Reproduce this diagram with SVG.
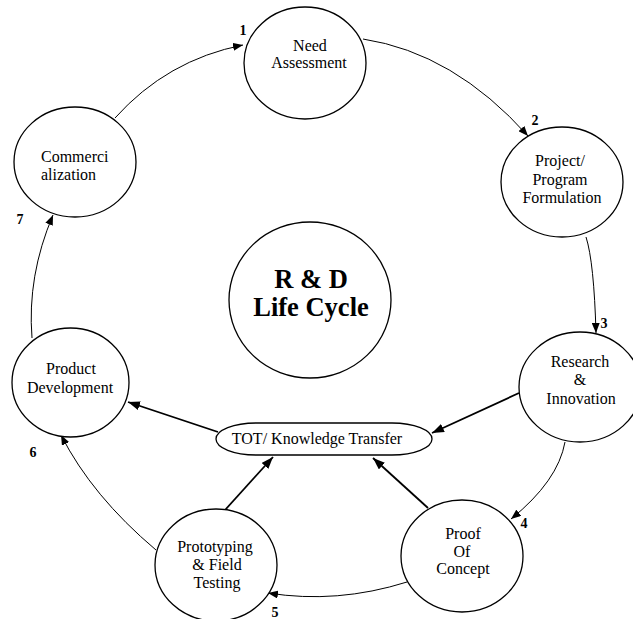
<svg xmlns="http://www.w3.org/2000/svg" width="633" height="619" viewBox="0 0 633 619">
<defs>
<style>
.node{fill:#fff;stroke:#000;stroke-width:1.3}
.t{font-family:"Liberation Serif","Times New Roman",serif;font-size:16px;fill:#000;text-anchor:middle}
.ts{text-anchor:start}
.big{font-family:"Liberation Serif","Times New Roman",serif;font-size:26.5px;font-weight:bold;fill:#000;text-anchor:middle}
.num{font-family:"Liberation Serif","Times New Roman",serif;font-size:14px;font-weight:bold;fill:#000;text-anchor:middle}
.arc{fill:none;stroke:#000;stroke-width:1;marker-end:url(#ah)}
.thick{fill:none;stroke:#000;stroke-width:1.8;marker-end:url(#ah2)}
</style>
<marker id="ah" markerUnits="userSpaceOnUse" markerWidth="11" markerHeight="8" refX="10" refY="4" orient="auto">
<path d="M0,0 L10,4 L0,8 z" fill="#000"/>
</marker>
<marker id="ah2" markerUnits="userSpaceOnUse" markerWidth="13" markerHeight="10" refX="12" refY="4.5" orient="auto">
<path d="M0,0 L12,4.5 L0,9 z" fill="#000"/>
</marker>
</defs>
<rect width="633" height="619" fill="#fff"/>
<g id="connectors">
<path class="arc" d="M115,118 Q167,60 243,45"/>
<path class="arc" d="M363,39 Q454,53 528,136"/>
<path class="arc" d="M586,237 Q594,262 596,333"/>
<path class="arc" d="M565,442 Q558,481 511,519"/>
<path class="arc" d="M407,582 Q337,604 268,593"/>
<path class="arc" d="M156,550 Q92,496 61,435"/>
<path class="arc" d="M32,338 Q27,276 53,215"/>
<path class="thick" d="M519,393 L432,433"/>
<path class="thick" d="M218,432 L128,402"/>
<path class="thick" d="M225,510 L273,457"/>
<path class="thick" d="M428,508 L373,458"/>
</g>
<g id="center">
<ellipse class="node" cx="310" cy="300" rx="81" ry="78"/>
<text class="big" x="311" y="288">R &amp; D</text>
<text class="big" x="311" y="316">Life Cycle</text>
</g>
<g id="need">
<ellipse class="node" cx="305" cy="63" rx="61" ry="56"/>
<text class="t" x="310" y="51">Need</text>
<text class="t" x="309" y="68">Assessment</text>
</g>
<g id="project">
<ellipse class="node" cx="562" cy="182" rx="61" ry="55"/>
<text class="t" x="560" y="166">Project/</text>
<text class="t" x="560" y="185">Program</text>
<text class="t" x="562" y="203">Formulation</text>
</g>
<g id="research">
<ellipse class="node" cx="580" cy="387" rx="61" ry="55"/>
<text class="t" x="580" y="367">Research</text>
<text class="t" x="580" y="385">&amp;</text>
<text class="t" x="581" y="404">Innovation</text>
</g>
<g id="proof">
<ellipse class="node" cx="462" cy="556" rx="61" ry="56"/>
<text class="t" x="463" y="539">Proof</text>
<text class="t" x="462" y="557">Of</text>
<text class="t" x="463" y="574">Concept</text>
</g>
<g id="prototyping">
<ellipse class="node" cx="216" cy="565" rx="61" ry="56"/>
<text class="t" x="215" y="552">Prototyping</text>
<text class="t" x="217" y="570">&amp; Field</text>
<text class="t" x="217" y="588">Testing</text>
</g>
<g id="product">
<ellipse class="node" cx="70.5" cy="382.5" rx="58.5" ry="54.5"/>
<text class="t" x="71" y="374">Product</text>
<text class="t" x="70" y="393">Development</text>
</g>
<g id="commercialization">
<ellipse class="node" cx="75" cy="162" rx="61" ry="55"/>
<text class="t ts" x="41" y="162">Commerci</text>
<text class="t ts" x="41" y="180">alization</text>
</g>
<g id="tot">
<rect class="node" x="216" y="423" width="216" height="32" rx="40" ry="16"/>
<text class="t" x="317" y="444">TOT/ Knowledge Transfer</text>
</g>
<g id="labels">
<text class="num" x="243" y="35">1</text>
<text class="num" x="535" y="125">2</text>
<text class="num" x="604" y="328">3</text>
<text class="num" x="524" y="528">4</text>
<text class="num" x="275" y="617">5</text>
<text class="num" x="33" y="457">6</text>
<text class="num" x="20" y="224">7</text>
</g>
</svg>
